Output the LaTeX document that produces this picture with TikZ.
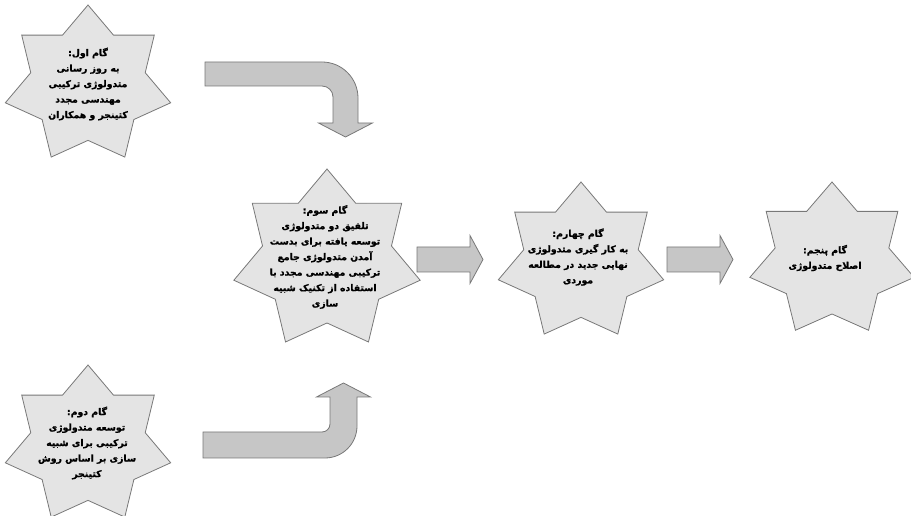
\documentclass[tikz,border=0pt]{standalone}
\usepackage{fontspec}
\usetikzlibrary{shapes.geometric}
\TeXXeTstate=1
\newfontfamily\fafont[Script=Arabic, BoldFeatures={FakeBold=1.2}]{DejaVu Sans}
\definecolor{starfill}{RGB}{228,228,228}
\definecolor{arrowfill}{RGB}{198,198,198}
\definecolor{edgegray}{RGB}{120,120,120}
\newcommand\rl[1]{\beginR #1\endR}
\tikzset{
  stepstar/.style={star, star points=7, star point ratio=1.445,
    draw=edgegray, fill=starfill, line width=0.8pt, inner sep=0pt},
  steptext/.style={align=center, inner sep=0pt, text=black,
    font=\fafont\bfseries\fontsize{9.3}{15.5}\selectfont},
  blockarrow/.style={draw=edgegray, fill=arrowfill, line width=0.8pt}
}
\begin{document}
\begin{tikzpicture}[x=1pt,y=1pt]
\path[use as bounding box] (0,0) rectangle (911,516);

% the five steps
\node[stepstar, minimum size=160pt, xscale=1.06] (s1) at (88,431) {};
\node[stepstar, minimum size=160pt, xscale=1.06] (s2) at (88,71) {};
\node[stepstar, minimum size=182pt, xscale=1.05] (s3) at (327,256) {};
\node[stepstar, minimum size=160pt, xscale=1.06] (s4) at (581,254) {};
\node[stepstar, minimum size=156pt, xscale=1.08] (s5) at (832,256) {};

\node[steptext] (t1) at (88,432) {\rl{گام اول:}\\\rl{به روز رسانی}\\\rl{متدولوژی ترکیبی}\\\rl{مهندسی مجدد}\\\rl{کتینجر و همکاران}};
\node[steptext] (t2) at (87,73) {\rl{گام دوم:}\\\rl{توسعه متدولوژی}\\\rl{ترکیبی برای شبیه}\\\rl{سازی بر اساس روش}\\\rl{کتینجر}};
\node[steptext] (t3) at (325,259) {\rl{گام سوم:}\\\rl{تلفیق دو متدولوژی}\\\rl{توسعه یافته  برای بدست}\\\rl{آمدن متدولوژی جامع}\\\rl{ترکیبی مهندسی مجدد با}\\\rl{استفاده از تکنیک شبیه}\\\rl{سازی}};
\node[steptext] (t4) at (578,259) {\rl{گام چهارم:}\\\rl{به کار گیری متدولوژی}\\\rl{نهایی جدید در مطالعه}\\\rl{موردی}};
\node[steptext] (t5) at (825,258) {\rl{گام پنجم:}\\\rl{اصلاح متدولوژی}};

% bent arrow from step one down into step three
\coordinate (b1) at (205,454);
\draw[blockarrow] (b1) -- (322,454) arc[start angle=90,end angle=0,radius=36]
  -- (358,393) -- (372.5,393) -- (345.5,379) -- (318.5,393) -- (333,393)
  -- (333,419) arc[start angle=0,end angle=90,radius=11] -- (205,430) -- cycle;

% bent arrow from step two up into step three
\coordinate (b2) at (203,58);
\draw[blockarrow] (b2) -- (325,58) arc[start angle=-90,end angle=0,radius=32]
  -- (357,119) -- (370.5,119) -- (343.5,133) -- (316.5,119) -- (330,119)
  -- (330,92) arc[start angle=0,end angle=-90,radius=8] -- (203,84) -- cycle;

% straight arrows between steps three, four and five
\foreach \x/\n in {417/a1,667/a2}{
  \coordinate (\n) at (\x,256.5);
  \draw[blockarrow] (\n) ++(0,-12.5) -- ++(53,0) -- ++(0,-11.5) -- ++(13,24)
    -- ++(-13,24) -- ++(0,-11.5) -- ++(-53,0) -- cycle;
}
\end{tikzpicture}
\end{document}
